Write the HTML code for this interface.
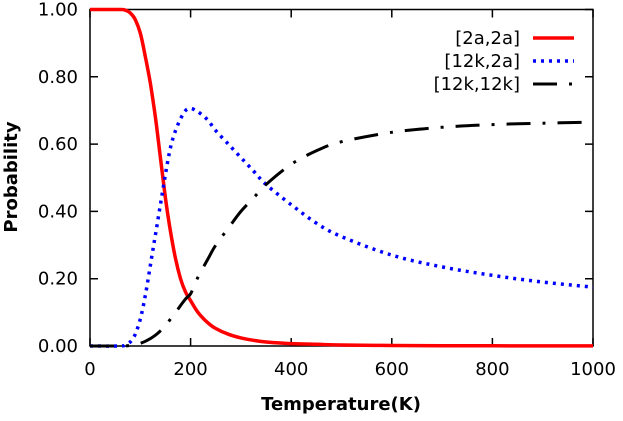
<!DOCTYPE html>
<html><head><meta charset="utf-8"><style>
body{margin:0;background:#fff}
text{font-family:"DejaVu Sans","Liberation Sans",sans-serif}
</style></head><body>
<svg id="chart" width="623" height="416" xmlns="http://www.w3.org/2000/svg">
<g id="axes"></g><g id="series"></g><g id="legend"></g>
</svg>
<script>
const temps=[0,60,70,80,90,100,110,120,130,140,150,160,170,180,190,200,210,220,235,250,275,300,325,350,400,450,500,600,700,800,900,1000];
const p2a2a=[1,1,0.998,0.99,0.97,0.93,0.86,0.78,0.68,0.56,0.44,0.34,0.26,0.2,0.16,0.135,0.11,0.09,0.068,0.052,0.035,0.024,0.017,0.012,0.007,0.005,0.003,0.0015,0.001,0.0005,0.0003,0.0002];
const p12k2a=[0,0,0.003,0.012,0.035,0.08,0.15,0.24,0.33,0.42,0.51,0.59,0.64,0.675,0.7,0.706,0.7,0.69,0.67,0.64,0.6,0.56,0.52,0.48,0.42,0.365,0.325,0.27,0.235,0.21,0.19,0.175];
const p12k12k=[0,0,0,0.002,0.004,0.008,0.014,0.022,0.032,0.045,0.06,0.08,0.1,0.12,0.14,0.155,0.19,0.22,0.26,0.3,0.35,0.4,0.44,0.48,0.54,0.58,0.607,0.635,0.65,0.658,0.662,0.665];
const xTicks=[0,200,400,600,800,1000];
const yTicks=[0,0.2,0.4,0.6,0.8,1.0];
const X0=90,X1=593,Y0=346,Y1=9.5;
const sx=v=>X0+(X1-X0)*v/1000, sy=v=>Y0-(Y0-Y1)*v;
const NS="http://www.w3.org/2000/svg";
function mk(tag,attrs,parent){const e=document.createElementNS(NS,tag);for(const k in attrs)e.setAttribute(k,attrs[k]);parent.appendChild(e);return e;}
const ax=document.getElementById('axes'),se=document.getElementById('series'),lg=document.getElementById('legend');
const frame=mk('rect',{x:X0,y:Y1,width:X1-X0,height:Y0-Y1,fill:'none',stroke:'#000','stroke-width':1.5},ax);


xTicks.forEach(t=>{
 const x=sx(t);
 const l=mk('path',{d:`M${x},${Y0}v-8M${x},${Y1}v8`,stroke:'#000','stroke-width':1.5},ax);
 
 
 const tx=mk('text',{x:x,y:375,'text-anchor':'middle','font-size':18},ax);tx.textContent=t;
 
 
});
yTicks.forEach(t=>{
 const y=sy(t);
 const l=mk('path',{d:`M${X0},${y}h8M${X1},${y}h-8`,stroke:'#000','stroke-width':1.5},ax);
 
 
 const tx=mk('text',{x:78,y:y+6,'text-anchor':'end','font-size':18},ax);tx.textContent=t.toFixed(2);
 
 
});
const xt=mk('text',{x:341,y:410,'text-anchor':'middle','font-size':18,'font-weight':'bold'},ax);xt.textContent='Temperature(K)';


const yt=mk('text',{x:0,y:0,transform:'translate(17,177) rotate(-90)','text-anchor':'middle','font-size':18,'font-weight':'bold'},ax);yt.textContent='Probability';


const series=[
 {vals:p2a2a,color:'#f00',dash:'',w:3.5,label:'[2a,2a]',name:'series-2a-2a'},
 {vals:p12k2a,color:'#00f',dash:'3,5',w:3.5,label:'[12k,2a]',name:'series-12k-2a'},
 {vals:p12k12k,color:'#000',dash:'24,12,3,12',w:3,label:'[12k,12k]',name:'series-12k-12k'}
];
function smoothPath(pts){
 let d='M'+pts[0][0].toFixed(1)+','+pts[0][1].toFixed(1);
 for(let i=0;i<pts.length-1;i++){
  const p0=pts[Math.max(0,i-1)],p1=pts[i],p2=pts[i+1],p3=pts[Math.min(pts.length-1,i+2)];
  const c1=[p1[0]+(p2[0]-p0[0])/6,p1[1]+(p2[1]-p0[1])/6],c2=[p2[0]-(p3[0]-p1[0])/6,p2[1]-(p3[1]-p1[1])/6];
  d+=`C${c1[0].toFixed(1)},${c1[1].toFixed(1)} ${c2[0].toFixed(1)},${c2[1].toFixed(1)} ${p2[0].toFixed(1)},${p2[1].toFixed(1)}`;
 }
 return d;
}
series.forEach((s,i)=>{
 const pts=temps.map((t,j)=>[sx(t),sy(s.vals[j])]);
 const p=mk('path',{d:smoothPath(pts),fill:'none',stroke:s.color,'stroke-width':s.w,'stroke-dasharray':s.dash,'stroke-linejoin':'round'},se);
 
 
 const ly=38+i*23;
 const tx=mk('text',{x:520,y:ly+6,'text-anchor':'end','font-size':18},lg);tx.textContent=s.label;
 
 
 const ln=mk('path',{d:`M533,${ly}H574`,stroke:s.color,'stroke-width':s.w,'stroke-dasharray':s.dash},lg);
 
 
});
</script>
</body></html>
